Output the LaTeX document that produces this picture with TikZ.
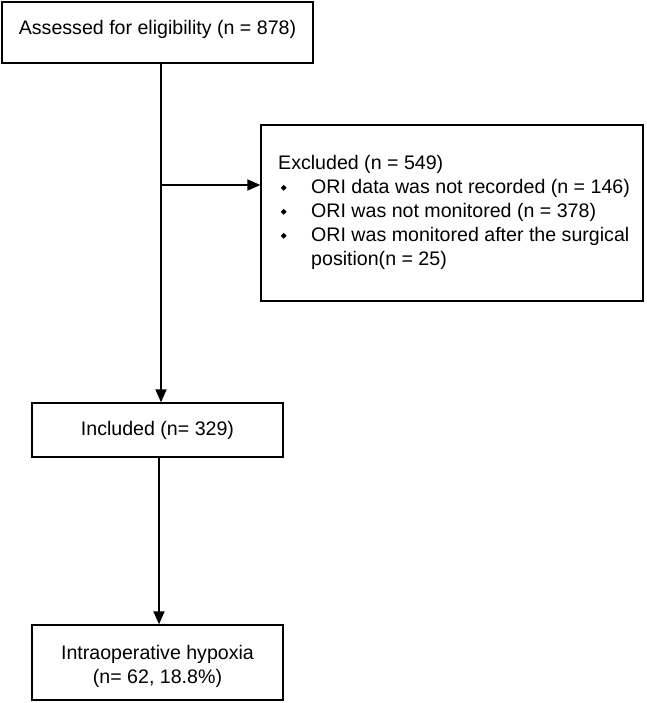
\documentclass[tikz,border=0pt]{standalone}
\usepackage{fontspec}
\setmainfont{Liberation Sans}
\usetikzlibrary{arrows.meta,calc}
\newcommand{\dmd}{\raisebox{2.3pt}{\rotatebox{45}{\rule{4.2pt}{4.2pt}}}}
\begin{document}
\begin{tikzpicture}[x=1pt,y=-1pt,
  box/.style={draw=black,line width=1.4pt,inner sep=0pt},
  txt/.style={inner sep=0pt,font=\fontsize{19.6}{24}\selectfont},
  conn/.style={line width=1.8pt},
  arr/.style={conn,-{Triangle[length=13pt,width=11pt]}}]
\useasboundingbox (0,0) rectangle (646,703);
\node[box,minimum width=311pt,minimum height=61pt] (elig) at (157.5,32.5) {};
\node[txt] (eligtxt) at (157.5,29.5) {Assessed for eligibility (n = 878)};
\node[box,minimum width=382pt,minimum height=176pt] (excl) at (452,213) {};
\node[txt,anchor=west,align=left] (excltxt) at (278,212)
  {Excluded (n = 549)\\
   \makebox[33pt][l]{\hspace*{2.5pt}\dmd}ORI data was not recorded (n = 146)\\
   \makebox[33pt][l]{\hspace*{2.5pt}\dmd}ORI was not monitored (n = 378)\\
   \makebox[33pt][l]{\hspace*{2.5pt}\dmd}ORI was monitored after the surgical\\
   \hspace*{33pt}position(n = 25)};
\node[box,minimum width=251pt,minimum height=54pt] (inc) at (157.5,430) {};
\node[txt] (inctxt) at (157.5,430) {Included (n= 329)};
\node[box,minimum width=251pt,minimum height=75pt] (hyp) at (157.5,662.5) {};
\node[txt,align=center] (hyptxt) at (157.5,666)
  {Intraoperative hypoxia\\(n= 62, 18.8\%)};
\coordinate (j) at (161,185);
\draw[arr] ([xshift=3.5pt]elig.south) -- ([xshift=3.5pt]inc.north);
\draw[arr] (j) -- (j -| excl.west);
\draw[arr] ([xshift=1.5pt]inc.south) -- ([xshift=1.5pt]hyp.north);
\end{tikzpicture}
\end{document}
